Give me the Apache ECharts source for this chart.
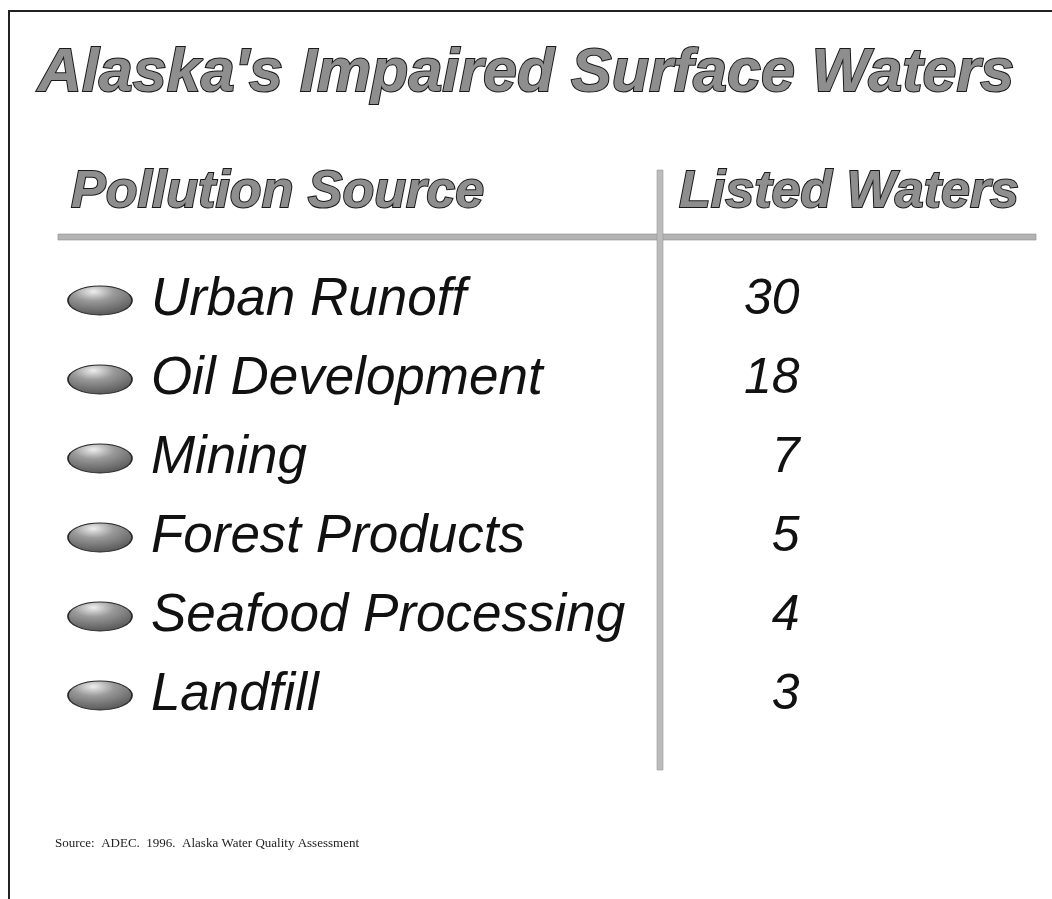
<!DOCTYPE html>
<html>
<head>
<meta charset="utf-8">
<script src="https://cdn.jsdelivr.net/npm/echarts@6/dist/echarts.min.js"></script>
<style>
  html, body { margin: 0; padding: 0; background: #fff; }
  #chart { width: 1052px; height: 899px; }
</style>
</head>
<body>
<div id="chart"></div>
<script>
// 数据
var sources = ['Urban Runoff', 'Oil Development', 'Mining', 'Forest Products', 'Seafood Processing', 'Landfill'];
var listedWaters = [30, 18, 7, 5, 4, 3];
var headers = ['Pollution Source', 'Listed Waters'];
var titleText = "Alaska's Impaired Surface Waters";
var sourceNote = 'Source:  ADEC.  1996.  Alaska Water Quality Assessment';

var chart = echarts.init(document.getElementById('chart'));

// 列：0 = 圆点+名称，1 = 数值
var bulletData = sources.map(function (s) { return [0, s]; });
var valueData = sources.map(function (s, i) { return [1, s, listedWaters[i]]; });

// 标题和表头：灰色填充 + 深色描边
var outlined = {
  fontFamily: 'Liberation Sans, Arial, sans-serif',
  fontWeight: 'bold',
  fontStyle: 'italic',
  color: '#8e8e8e',
  textBorderColor: '#1a1a1a',
  textBorderWidth: 2
};

var option = {
  backgroundColor: '#fff',
  title: [
    {
      text: titleText,
      left: 'center',
      top: 39,
      textStyle: Object.assign({ fontSize: 61 }, outlined)
    },
    {
      text: headers[0],
      left: 66,
      top: 162,
      textStyle: Object.assign({ fontSize: 52 }, outlined)
    },
    {
      text: headers[1],
      left: 674,
      top: 162,
      textStyle: Object.assign({ fontSize: 52 }, outlined)
    },
    {
      text: sourceNote,
      left: 50,
      top: 832,
      textStyle: {
        fontFamily: 'Liberation Serif, Times New Roman, serif',
        fontWeight: 'normal',
        fontSize: 13,
        color: '#222'
      }
    }
  ],
  grid: { left: 100, width: 700, top: 261, height: 474 },
  xAxis: { type: 'value', min: 0, max: 1, show: false },
  yAxis: {
    type: 'category',
    data: sources,
    inverse: true,
    show: false
  },
  graphic: [
    // 外框
    { type: 'line', shape: { x1: 8, y1: 11, x2: 1052, y2: 11 }, style: { stroke: '#222', lineWidth: 2 } },
    { type: 'line', shape: { x1: 9, y1: 11, x2: 9, y2: 899 }, style: { stroke: '#222', lineWidth: 2 } },
    // 表头下的横线
    { type: 'rect', shape: { x: 58, y: 234, width: 978, height: 6 }, style: { fill: '#b4b4b4', stroke: '#8a8a8a', lineWidth: 0.6 } },
    // 分隔竖线
    { type: 'rect', shape: { x: 657, y: 170, width: 6, height: 600 }, style: { fill: '#bcbcbc', stroke: '#999', lineWidth: 0.6 } }
  ],
  series: [
    {
      type: 'scatter',
      data: bulletData,
      symbol: 'circle',
      symbolSize: [64, 29],
      itemStyle: {
        opacity: 1,
        color: {
          type: 'radial', x: 0.4, y: 0.2, r: 0.9,
          colorStops: [
            { offset: 0, color: '#eeeeee' },
            { offset: 0.35, color: '#9a9a9a' },
            { offset: 1, color: '#4a4a4a' }
          ]
        },
        borderColor: '#2a2a2a',
        borderWidth: 1.2
      },
      label: {
        show: true,
        position: 'right',
        distance: 18,
        formatter: function (p) { return p.value[1]; },
        fontFamily: 'Liberation Sans, Arial, sans-serif',
        fontStyle: 'italic',
        fontSize: 53,
        color: '#111'
      },
      silent: true,
      z: 3
    },
    {
      type: 'scatter',
      data: valueData,
      symbol: 'circle',
      symbolSize: 1,
      itemStyle: { opacity: 1, color: 'rgba(0,0,0,0)' },
      label: {
        show: true,
        position: 'left',
        distance: 0,
        formatter: function (p) { return p.value[2]; },
        fontFamily: 'Liberation Sans, Arial, sans-serif',
        fontStyle: 'italic',
        fontSize: 50,
        color: '#111'
      },
      silent: true
    }
  ]
};

chart.setOption(option);
</script>
</body>
</html>
